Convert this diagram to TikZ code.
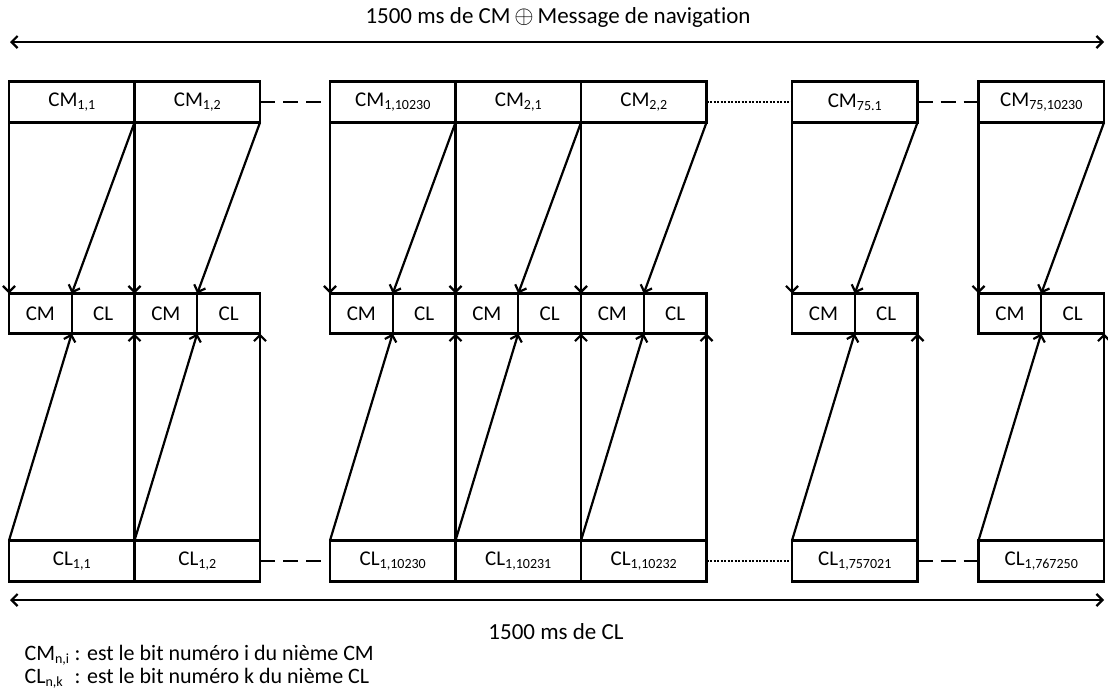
\documentclass[tikz,border=0pt]{standalone}
\usepackage{fontspec}
\setmainfont[Ligatures=NoCommon]{Carlito}
\usetikzlibrary{arrows.meta,positioning}
\newcommand{\idx}[1]{\raisebox{-3.5pt}{\fontsize{14}{14}\selectfont #1}}

\begin{document}
\begin{tikzpicture}[x=1pt,y=-1pt,
  node distance=0pt,
  cell/.style={draw,line width=2.4pt,inner sep=0pt,outer sep=0pt,font=\fontsize{21}{25}\selectfont},
  bitcell/.style={cell,minimum width=125.5pt,minimum height=41pt},
  chipcell/.style={cell,minimum width=62.75pt,minimum height=40pt},
  arrow/.style={-{Straight Barb[length=6pt,width=12pt]},line width=2.2pt},
  span/.style={{Straight Barb[length=6pt,width=12pt]}-{Straight Barb[length=6pt,width=12pt]},line width=2.2pt},
  gapdash/.style={line width=2.4pt,dash pattern=on 15pt off 8pt},
  gapdot/.style={line width=2.4pt,dash pattern=on 2pt off 1.5pt},
  lbl/.style={font=\fontsize{23}{27}\selectfont},
  note/.style={font=\fontsize{22}{26}\selectfont}]
\useasboundingbox (0,0) rectangle (1108,697);
% spans
\node[lbl] (ttop) at (558,17) {1500 ms de CM\,$\oplus$\,Message de navigation};
\coordinate (topL) at (10,42);
\coordinate (topR) at (1104,42);
\draw[span] (topL) -- (topR);
\node[lbl] (tbot) at (556,632) {1500 ms de CL};
\coordinate (botL) at (10,600);
\coordinate (botR) at (1104,600);
\draw[span] (botL) -- (botR);
% CM bits
\node[bitcell, anchor=west] (cmA1) at (9,102) {CM\idx{1,1}};
\node[bitcell, right=of cmA1] (cmA2) {CM\idx{1,2}};
\node[bitcell, right=70pt of cmA2] (cmB1) {CM\idx{1,10230}};
\node[bitcell, right=of cmB1] (cmB2) {CM\idx{2,1}};
\node[bitcell, right=of cmB2] (cmB3) {CM\idx{2,2}};
\node[bitcell, right=85.5pt of cmB3] (cmC1) {CM\idx{75.1}};
\node[bitcell, right=61pt of cmC1] (cmD1) {CM\idx{75,10230}};
% CM / CL chips
\node[chipcell, below right=171pt and 0pt of cmA1.south west] (pA1cm) {CM};
\node[chipcell, right=of pA1cm] (pA1cl) {CL};
\node[chipcell, right=of pA1cl] (pA2cm) {CM};
\node[chipcell, right=of pA2cm] (pA2cl) {CL};
\node[chipcell, below right=171pt and 0pt of cmB1.south west] (pB1cm) {CM};
\node[chipcell, right=of pB1cm] (pB1cl) {CL};
\node[chipcell, right=of pB1cl] (pB2cm) {CM};
\node[chipcell, right=of pB2cm] (pB2cl) {CL};
\node[chipcell, right=of pB2cl] (pB3cm) {CM};
\node[chipcell, right=of pB3cm] (pB3cl) {CL};
\node[chipcell, below right=171pt and 0pt of cmC1.south west] (pC1cm) {CM};
\node[chipcell, right=of pC1cm] (pC1cl) {CL};
\node[chipcell, below right=171pt and 0pt of cmD1.south west] (pD1cm) {CM};
\node[chipcell, right=of pD1cm] (pD1cl) {CL};
% CL bits
\node[bitcell, below right=207pt and 0pt of pA1cm.south west] (clA1) {CL\idx{1,1}};
\node[bitcell, right=of clA1] (clA2) {CL\idx{1,2}};
\node[bitcell, below right=207pt and 0pt of pB1cm.south west] (clB1) {CL\idx{1,10230}};
\node[bitcell, right=of clB1] (clB2) {CL\idx{1,10231}};
\node[bitcell, right=of clB2] (clB3) {CL\idx{1,10232}};
\node[bitcell, below right=207pt and 0pt of pC1cm.south west] (clC1) {CL\idx{1,757021}};
\node[bitcell, below right=207pt and 0pt of pD1cm.south west] (clD1) {CL\idx{1,767250}};
% gaps
\draw[gapdash] (cmA2.east) -- (cmB1.west);
\draw[gapdot] (cmB3.east) -- (cmC1.west);
\draw[gapdash] (cmC1.east) -- (cmD1.west);
\draw[gapdash] (clA2.east) -- (clB1.west);
\draw[gapdot] (clB3.east) -- (clC1.west);
\draw[gapdash] (clC1.east) -- (clD1.west);
% CM bit -> CM chip
\draw[arrow] (cmA1.south west) -- (pA1cm.north west);
\draw[arrow] (cmA1.south east) -- (pA1cm.north east);
\draw[arrow] (cmA2.south west) -- (pA2cm.north west);
\draw[arrow] (cmA2.south east) -- (pA2cm.north east);
\draw[arrow] (cmB1.south west) -- (pB1cm.north west);
\draw[arrow] (cmB1.south east) -- (pB1cm.north east);
\draw[arrow] (cmB2.south west) -- (pB2cm.north west);
\draw[arrow] (cmB2.south east) -- (pB2cm.north east);
\draw[arrow] (cmB3.south west) -- (pB3cm.north west);
\draw[arrow] (cmB3.south east) -- (pB3cm.north east);
\draw[arrow] (cmC1.south west) -- (pC1cm.north west);
\draw[arrow] (cmC1.south east) -- (pC1cm.north east);
\draw[arrow] (cmD1.south west) -- (pD1cm.north west);
\draw[arrow] (cmD1.south east) -- (pD1cm.north east);
% CL bit -> CL chip
\draw[arrow] (clA1.north west) -- (pA1cl.south west);
\draw[arrow] (clA1.north east) -- (pA1cl.south east);
\draw[arrow] (clA2.north west) -- (pA2cl.south west);
\draw[arrow] (clA2.north east) -- (pA2cl.south east);
\draw[arrow] (clB1.north west) -- (pB1cl.south west);
\draw[arrow] (clB1.north east) -- (pB1cl.south east);
\draw[arrow] (clB2.north west) -- (pB2cl.south west);
\draw[arrow] (clB2.north east) -- (pB2cl.south east);
\draw[arrow] (clB3.north west) -- (pB3cl.south west);
\draw[arrow] (clB3.north east) -- (pB3cl.south east);
\draw[arrow] (clC1.north west) -- (pC1cl.south west);
\draw[arrow] (clC1.north east) -- (pC1cl.south east);
\draw[arrow] (clD1.north west) -- (pD1cl.south west);
\draw[arrow] (clD1.north east) -- (pD1cl.south east);
% legend
\node[note, anchor=west] (legcm) at (21,655) {\makebox[50pt][l]{CM\idx{n,i}}: est le bit numéro i du nième CM};
\node[note, anchor=west] (legcl) at (21,678) {\makebox[50pt][l]{CL\idx{n,k}}: est le bit numéro k du nième CL};
\end{tikzpicture}
\end{document}
